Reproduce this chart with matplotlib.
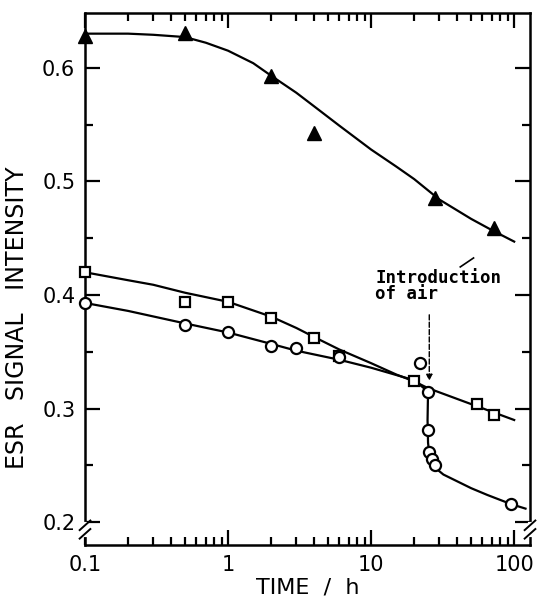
import numpy as np
import matplotlib
matplotlib.use('Agg')
import matplotlib.pyplot as plt
from matplotlib.ticker import FixedLocator, NullFormatter

# measured points
t_tri = [0.1, 0.5, 2, 4, 28, 72]
esr_tri = [0.628, 0.631, 0.593, 0.543, 0.485, 0.459]

t_sq = [0.1, 0.5, 1, 2, 4, 6, 20, 55, 72]
esr_sq = [0.420, 0.394, 0.394, 0.380, 0.362, 0.346, 0.324, 0.304, 0.294]

t_circ = [0.1, 0.5, 1, 2, 3, 6, 22, 25, 25, 25.5, 26.5, 28, 95]
esr_circ = [0.393, 0.374, 0.367, 0.355, 0.353, 0.345, 0.340, 0.315, 0.281, 0.262, 0.256, 0.250, 0.216]

# hand drawn guide curves
t_tri_fit = [0.1, 0.2, 0.3, 0.5, 0.7, 1, 1.5, 2, 3, 4, 6, 10, 15, 20, 30, 50, 70, 100]
esr_tri_fit = [0.630, 0.630, 0.629, 0.627, 0.622, 0.615, 0.604, 0.593, 0.578, 0.566, 0.549, 0.528, 0.513, 0.502, 0.484, 0.467, 0.457, 0.447]

t_sq_fit = [0.1, 0.2, 0.3, 0.5, 1, 2, 3, 4, 6, 10, 15, 20, 25, 50, 100]
esr_sq_fit = [0.420, 0.413, 0.409, 0.402, 0.394, 0.381, 0.371, 0.363, 0.352, 0.340, 0.330, 0.324, 0.318, 0.304, 0.290]

t_circ_fit = [0.1, 0.2, 0.5, 1, 2, 3, 6, 10, 20, 25, 24.8, 25.0, 25.5, 26.5, 28, 32, 40, 50, 65, 95, 120]
esr_circ_fit = [0.393, 0.386, 0.375, 0.367, 0.357, 0.351, 0.343, 0.336, 0.325, 0.315, 0.290, 0.270, 0.260, 0.253, 0.248, 0.242, 0.236, 0.230, 0.224, 0.216, 0.212]

xticks = [0.1, 1, 10, 100]
xticklabels = ['0.1', '1', '10', '100']
yticks = [0.2, 0.3, 0.4, 0.5, 0.6]

fig = plt.figure(figsize=(5.39, 6.0), dpi=100)
ax = fig.add_axes([0.1577, 0.0917, 0.8256, 0.8863])

lw = 1.6
ax.plot(t_tri_fit, esr_tri_fit, color='k', lw=lw)
ax.plot(t_sq_fit, esr_sq_fit, color='k', lw=lw)
ax.plot(t_circ_fit, esr_circ_fit, color='k', lw=lw)

ax.plot(t_tri, esr_tri, ls='none', marker='^', ms=10, color='k', clip_on=False, zorder=3)
ax.plot(t_sq, esr_sq, ls='none', marker='s', ms=7, mfc='white', mec='k', mew=1.6, clip_on=False, zorder=3)
ax.plot(t_circ, esr_circ, ls='none', marker='o', ms=8, mfc='white', mec='k', mew=1.6, clip_on=False, zorder=3)

ax.set_xscale('log')
ax.set_xlim(0.1, 129)
ax.set_ylim(0.18, 0.648)

ax.xaxis.set_major_locator(FixedLocator(xticks))
ax.set_xticklabels(xticklabels)
minors = [m * d for d in [0.1, 1, 10] for m in range(2, 10)]
ax.xaxis.set_minor_locator(FixedLocator(minors))
ax.xaxis.set_minor_formatter(NullFormatter())
ax.yaxis.set_major_locator(FixedLocator(yticks))
ax.set_yticklabels(['0.2', '0.3', '0.4', '0.5', '0.6'])
ax.yaxis.set_minor_locator(FixedLocator([0.25, 0.35, 0.45, 0.55]))

ax.tick_params(which='both', direction='in', top=True, right=True, width=1.6)
ax.tick_params(which='major', length=11, labelsize=15, pad=7)
ax.tick_params(which='minor', length=6)
for s in ax.spines.values():
    s.set_linewidth(1.8)

ax.set_xlabel('TIME  /  h', fontsize=16, labelpad=2)
ax.set_ylabel('ESR   SIGNAL   INTENSITY', fontsize=17)
ax.yaxis.set_label_coords(-0.125, 0.427)

# introduction of air
ax.text(10.7, 0.408, 'Introduction\nof air', fontsize=12.5, family='DejaVu Sans Mono',
        fontweight='bold', ha='left', va='center', linespacing=0.8)
ax.annotate('', xy=(25.5, 0.322), xytext=(25.5, 0.385),
            arrowprops=dict(arrowstyle='-|>', ls='--', lw=1.0, color='k', mutation_scale=9))
ax.plot([42, 52], [0.4247, 0.4326], color='k', lw=1.2)

# axis breaks
for xa in [0.0, 1.0]:
    ax.plot([xa, xa], [0.018, 0.04], color='white', lw=3, transform=ax.transAxes, clip_on=False, zorder=5)
    ax.plot([xa - 0.012, xa + 0.012], [0.012, 0.03], color='k', lw=1.4, transform=ax.transAxes, clip_on=False, zorder=6)
    ax.plot([xa - 0.012, xa + 0.012], [0.028, 0.046], color='k', lw=1.4, transform=ax.transAxes, clip_on=False, zorder=6)

plt.savefig('out.png', dpi=100)
